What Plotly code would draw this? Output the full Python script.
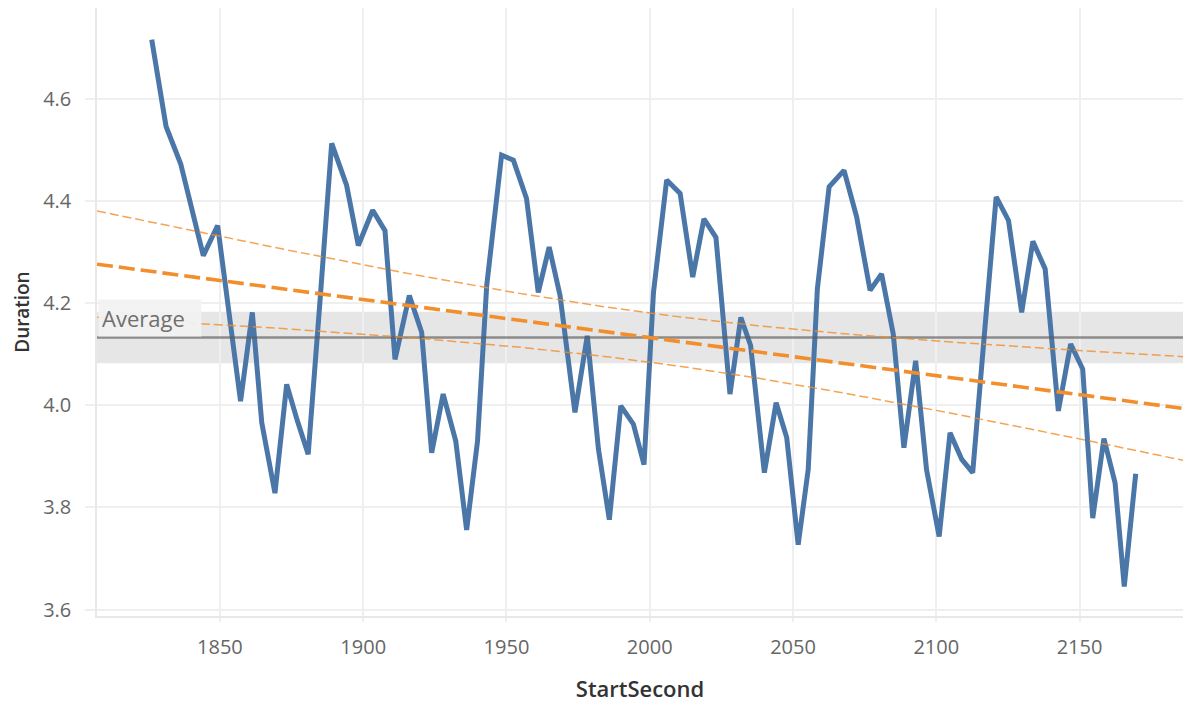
import numpy as np
import plotly.graph_objects as go

# StartSecond / Duration samples
start_second = [
    1826.2, 1831.2, 1836.3, 1840.2, 1844.2, 1849.2, 1853.2, 1857.2, 1861.3, 1864.6,
    1869.2, 1873.3, 1877.0, 1880.8, 1885.0, 1889.0, 1894.2, 1898.3, 1903.3, 1907.6,
    1911.1, 1916.1, 1920.4, 1923.9, 1927.9, 1932.3, 1936.1, 1939.9, 1943.1, 1948.3,
    1952.4, 1957.0, 1961.1, 1964.9, 1968.7, 1973.9, 1978.2, 1982.1, 1985.9, 1989.9,
    1994.3, 1998.0, 2001.3, 2005.9, 2010.6, 2015.0, 2018.9, 2023.1, 2028.0, 2031.8,
    2035.2, 2040.0, 2044.1, 2047.8, 2051.8, 2055.3, 2058.5, 2062.6, 2067.8, 2072.2,
    2076.9, 2080.9, 2085.0, 2088.7, 2092.8, 2096.6, 2101.0, 2104.8, 2108.9, 2112.7,
    2116.8, 2120.9, 2125.2, 2129.8, 2133.7, 2138.0, 2142.6, 2146.9, 2151.1, 2154.6,
    2158.5, 2162.4, 2165.6, 2169.6,
]
duration = [
    4.716, 4.546, 4.473, 4.383, 4.293, 4.352, 4.180, 4.008, 4.182, 3.966,
    3.828, 4.041, 3.970, 3.904, 4.210, 4.513, 4.431, 4.313, 4.382, 4.342,
    4.090, 4.215, 4.143, 3.907, 4.022, 3.930, 3.756, 3.930, 4.234, 4.490,
    4.480, 4.405, 4.221, 4.310, 4.215, 3.986, 4.136, 3.914, 3.776, 3.999,
    3.963, 3.884, 4.221, 4.441, 4.415, 4.251, 4.365, 4.329, 4.022, 4.172,
    4.117, 3.868, 4.005, 3.937, 3.727, 3.874, 4.228, 4.428, 4.460, 4.369,
    4.225, 4.257, 4.139, 3.917, 4.087, 3.874, 3.743, 3.946, 3.894, 3.868,
    4.140, 4.408, 4.362, 4.182, 4.321, 4.267, 3.989, 4.120, 4.071, 3.779,
    3.935, 3.848, 3.645, 3.866,
]

x_ticks = [1850, 1900, 1950, 2000, 2050, 2100, 2150]
y_ticks = [3.6, 3.8, 4.0, 4.2, 4.4, 4.6]
x_range = [1807.1, 2186.1]
y_range = [3.5874, 4.778]

x = np.array(start_second)
y = np.array(duration)
n = len(x)
t_crit = 1.99  # two-sided 95% t quantile, ~82 degrees of freedom

# Average reference line with 95% confidence band of the mean
avg = y.mean()
avg_hw = t_crit * y.std(ddof=1) / np.sqrt(n)

# Linear trend with 95% confidence band of the fitted mean
slope, intercept = np.polyfit(x, y, 1)
resid = y - (slope * x + intercept)
s = np.sqrt((resid ** 2).sum() / (n - 2))
sxx = ((x - x.mean()) ** 2).sum()
xt = np.linspace(x_range[0], x_range[1], 200)
yt = slope * xt + intercept
hw = t_crit * s * np.sqrt(1.0 / n + (xt - x.mean()) ** 2 / sxx)

BLUE = "#4a76a8"
ORANGE = "#f28e2b"
GRID = "#efefef"

fig = go.Figure()

fig.add_shape(type="rect", xref="paper", x0=0, x1=1, yref="y",
              y0=avg - avg_hw, y1=avg + avg_hw,
              fillcolor="#e6e6e6", line_width=0, layer="below")

fig.add_trace(go.Scatter(x=x, y=y, mode="lines",
                         line=dict(color=BLUE, width=5), hoverinfo="x+y"))

fig.add_trace(go.Scatter(x=x_range, y=[avg, avg], mode="lines",
                         line=dict(color="rgba(90,90,90,0.65)", width=2.5),
                         hoverinfo="skip"))

fig.add_trace(go.Scatter(x=xt, y=yt, mode="lines",
                         line=dict(color=ORANGE, width=3.6, dash="16px,6px"),
                         hoverinfo="skip"))
for band in (yt + hw, yt - hw):
    fig.add_trace(go.Scatter(x=xt, y=band, mode="lines",
                             line=dict(color=ORANGE, width=1.5, dash="9px,4px"),
                             opacity=0.8, hoverinfo="skip"))

fig.add_annotation(text="Average", xref="paper", x=0.0, xanchor="left",
                   yref="y", y=avg, yanchor="bottom", yshift=1,
                   width=96, align="left",
                   showarrow=False, bgcolor="rgba(242,242,242,0.92)",
                   borderpad=3, xshift=1,
                   font=dict(family="Open Sans", size=22, color="#6f6f6f"))

fig.update_layout(
    width=1183, height=703,
    margin=dict(l=97, r=0, t=8, b=87),
    paper_bgcolor="white", plot_bgcolor="white",
    showlegend=False,
    font=dict(family="Open Sans", color="#666666"),
)
fig.update_xaxes(
    range=x_range, tickvals=x_ticks, ticktext=[str(v) for v in x_ticks],
    showgrid=True, gridcolor=GRID, gridwidth=2,
    showline=True, linecolor="#e8e8e8", linewidth=1.5,
    ticks="outside", ticklen=4, tickcolor=GRID, tickwidth=2, ticklabelstandoff=8,
    tickfont=dict(size=20, color="#666666"),
    title=dict(text="StartSecond", standoff=27,
               font=dict(size=22, color="#333333", family="Open Sans SemiBold, Open Sans")),
    zeroline=False,
)
fig.update_yaxes(
    range=y_range, tickvals=y_ticks, ticktext=[f"{v:.1f}" for v in y_ticks],
    showgrid=True, gridcolor=GRID, gridwidth=2,
    showline=True, linecolor="#e8e8e8", linewidth=1.5,
    ticks="outside", ticklen=10, tickcolor=GRID, tickwidth=2, ticklabelstandoff=10,
    tickfont=dict(size=20, color="#666666"),
    title=dict(text="Duration", standoff=8,
               font=dict(size=19, color="#333333", family="Open Sans SemiBold, Open Sans")),
    zeroline=False,
)

fig.write_html("out.html")
